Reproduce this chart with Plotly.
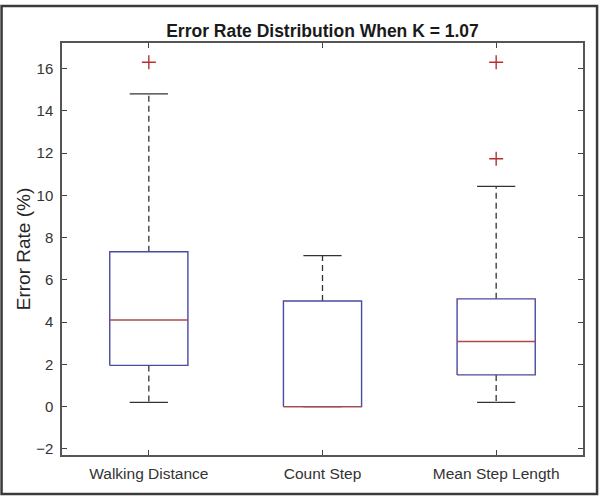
import plotly.graph_objects as go

categories = ["Walking Distance", "Count Step", "Mean Step Length"]
lower_whisker = [0.2, 0.0, 0.2]
q1 = [1.95, 0.0, 1.5]
median = [4.1, 0.0, 3.08]
q3 = [7.33, 5.0, 5.1]
upper_whisker = [14.8, 7.15, 10.42]
outliers = [[16.3], [], [16.3, 11.73]]
y_ticks = [-2, 0, 2, 4, 6, 8, 10, 12, 14, 16]

BOX_HALF = 0.225
CAP_HALF = 0.11
BOX_COLOR = "#4a4aa0"
MED_COLOR = "#b04848"
WHISK_COLOR = "#333333"
FONT = "Liberation Sans, Arial, sans-serif"

fig = go.Figure()
positions = [i + 1 for i in range(len(categories))]

for i, c in enumerate(positions):
    # whiskers (dashed)
    fig.add_trace(go.Scatter(
        x=[c, c, None, c, c],
        y=[q3[i], upper_whisker[i], None, q1[i], lower_whisker[i]],
        mode="lines", line=dict(color=WHISK_COLOR, width=1.3, dash="6px,4px"),
        hoverinfo="skip", showlegend=False))
    # caps
    fig.add_trace(go.Scatter(
        x=[c - CAP_HALF, c + CAP_HALF, None, c - CAP_HALF, c + CAP_HALF],
        y=[upper_whisker[i], upper_whisker[i], None, lower_whisker[i], lower_whisker[i]],
        mode="lines", line=dict(color=WHISK_COLOR, width=1.3),
        hoverinfo="skip", showlegend=False))
    # box
    fig.add_trace(go.Scatter(
        x=[c - BOX_HALF, c + BOX_HALF, c + BOX_HALF, c - BOX_HALF, c - BOX_HALF],
        y=[q1[i], q1[i], q3[i], q3[i], q1[i]],
        mode="lines", line=dict(color=BOX_COLOR, width=1.4),
        hoverinfo="skip", showlegend=False))
    # median
    fig.add_trace(go.Scatter(
        x=[c - BOX_HALF, c + BOX_HALF], y=[median[i], median[i]],
        mode="lines", line=dict(color=MED_COLOR, width=1.4),
        hoverinfo="skip", showlegend=False))
    # outliers
    if outliers[i]:
        fig.add_trace(go.Scatter(
            x=[c] * len(outliers[i]), y=outliers[i], mode="markers",
            marker=dict(symbol="cross-thin", size=10, line=dict(color="#b83030", width=1.4)),
            hoverinfo="skip", showlegend=False))

fig.update_layout(
    width=600, height=498,
    margin=dict(l=62, r=17, t=43, b=43),
    paper_bgcolor="white", plot_bgcolor="white",
    font=dict(family=FONT, color="#262626", size=15),
    title=dict(text="<b>Error Rate Distribution When K = 1.07</b>",
               x=0.5375, xanchor="center", y=0.9378, yanchor="middle",
               font=dict(family=FONT, size=17.5, color="#1a1a1a")),
    xaxis=dict(range=[0.5, 3.5], tickvals=positions, ticktext=categories,
               showgrid=False, zeroline=False, showline=True, linecolor="#555555",
               linewidth=1.5, mirror="allticks", ticks="inside", ticklen=5,
               tickcolor="#444444", tickwidth=1.3, ticklabelstandoff=4,
               tickfont=dict(size=15.5, color="#333333")),
    yaxis=dict(range=[-2.29, 17.21], tickvals=y_ticks,
               showgrid=False, zeroline=False, showline=True, linecolor="#555555",
               linewidth=1.5, mirror="allticks", ticks="inside", ticklen=5,
               tickcolor="#444444", tickwidth=1.3, ticklabelstandoff=4,
               tickfont=dict(size=15, color="#333333"),
               title=dict(text="Error Rate (%)", standoff=0,
                          font=dict(size=19, color="#262626"))),
    shapes=[dict(type="rect", xref="paper", yref="paper",
                 x0=-0.116, x1=1.027, y0=-0.0947, y1=1.0898,
                 line=dict(color="#3a3a3a", width=2.5), fillcolor="rgba(0,0,0,0)",
                 layer="above")],
)

fig.write_html("out.html", config={"displayModeBar": False},
               post_script="document.body.style.margin='0px';")
